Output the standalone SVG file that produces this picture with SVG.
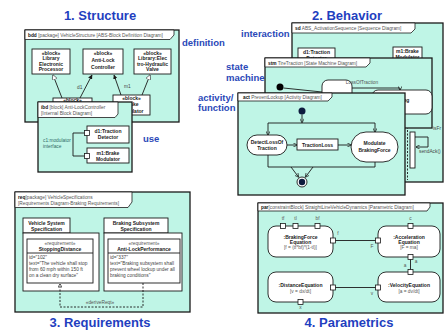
<svg xmlns="http://www.w3.org/2000/svg" width="444" height="330" viewBox="0 0 444 330">
<style>
text{font-family:"Liberation Sans",Arial,sans-serif}
.title{font-size:13px;font-weight:bold;fill:#1f3fbf;text-anchor:middle}
.lbl{font-size:9.5px;font-weight:bold;fill:#2a48b8}
.frame{fill:#bff5e6;stroke:#1a1a1a;stroke-width:1.3}
.tab{fill:#fff;stroke:#1a1a1a;stroke-width:0.8}
.hd{font-size:4.8px;fill:#555}
.k{font-weight:bold;fill:#111}
.box{fill:#fff;stroke:#1a1a1a;stroke-width:0.9}
.bt{font-size:5px;font-weight:bold;fill:#222;text-anchor:middle}
.nt{font-size:4.8px;fill:#555;text-anchor:middle}
.t{font-size:4.8px;fill:#444}
.ln{fill:none;stroke:#1a1a1a;stroke-width:0.9}
.port{fill:#fff;stroke:#1a1a1a;stroke-width:0.8}
.dot{fill:#0d1b3e}
</style>
<defs>
<marker id="arr" viewBox="0 0 10 10" refX="9" refY="5" markerWidth="5" markerHeight="5" orient="auto-start-reverse"><path d="M0,0 L10,5 L0,10" fill="none" stroke="#1a1a1a" stroke-width="1.5"/></marker>
<marker id="fill" viewBox="0 0 10 10" refX="9" refY="5" markerWidth="5" markerHeight="5" orient="auto-start-reverse"><path d="M0,0 L10,5 L0,10 Z" fill="#1a1a1a"/></marker>
<marker id="hollow" viewBox="0 0 10 10" refX="9" refY="5" markerWidth="6" markerHeight="6" orient="auto-start-reverse"><path d="M0,0 L10,5 L0,10 Z" fill="#fff" stroke="#1a1a1a" stroke-width="1"/></marker>
</defs>

<g id="titles">
<text class="title" x="100" y="20">1. Structure</text>
<text class="title" x="347" y="20">2. Behavior</text>
<text class="title" x="100" y="327">3. Requirements</text>
<text class="title" x="349" y="327">4. Parametrics</text>
<text class="lbl" x="182" y="45.5">definition</text>
<text class="lbl" x="143" y="142">use</text>
<text class="lbl" x="241" y="37">interaction</text>
<text class="lbl" x="226" y="70">state</text>
<text class="lbl" x="226" y="81">machine</text>
<text class="lbl" x="198" y="101">activity/</text>
<text class="lbl" x="198" y="111">function</text>
</g>

<!-- 1. Structure -->
<g id="bdd">
<rect class="frame" x="25" y="30" width="154" height="92"/>
<path class="tab" d="M25,30 H174 V35 L170,39.5 H25 Z"/>
<text class="hd" x="28" y="37"><tspan class="k">bdd</tspan> [package] VehicleStructure [ABS-Block Definition Diagram]</text>
<g id="blk-lep"><rect class="box" x="32" y="49" width="38" height="25"/>
<text class="bt" x="51" y="54.5">«block»</text><text class="bt" x="51" y="60">Library</text><text class="bt" x="51" y="65.5">Electronic</text><text class="bt" x="51" y="71">Processor</text></g>
<g id="blk-alc"><rect class="box" x="83" y="49" width="40" height="25"/>
<text class="bt" x="103" y="55">«block»</text><text class="bt" x="103" y="62">Anti-Lock</text><text class="bt" x="103" y="69">Controller</text></g>
<g id="blk-ehv"><rect class="box" x="134" y="49" width="37" height="25"/>
<text class="bt" x="152.5" y="54.5">«block»</text><text class="bt" x="152.5" y="60">Library:Elec</text><text class="bt" x="152.5" y="65.5">tro-Hydraulic</text><text class="bt" x="152.5" y="71">Valve</text></g>
<g id="blk-d1"><rect class="box" x="53" y="98" width="39" height="16"/>
<text class="bt" x="72.5" y="101.5">«block»</text></g>
<g id="blk-m1"><rect class="box" x="113" y="95" width="37" height="20"/>
<text class="bt" x="131.5" y="99.5">«block»</text><text class="bt" x="131.5" y="106">Brake</text><text class="bt" x="131.5" y="112.5">Modulator</text></g>
<g id="bdd-links">
<path class="ln" d="M62,98 L53,75" marker-end="url(#hollow)"/>
<path class="ln" d="M80,98 L92,75" marker-end="url(#fill)"/>
<path class="ln" d="M121,95 L114,75" marker-end="url(#fill)"/>
<path class="ln" d="M142,95 L150,75" marker-end="url(#hollow)"/>
<text class="t" x="77" y="89">d1</text>
<text class="t" x="124" y="88">m1</text>
</g>
</g>

<g id="ibd">
<rect class="frame" x="38" y="102" width="94" height="70"/>
<path class="tab" d="M38,102 H118 V114 L115,117.5 H38 Z"/>
<text class="hd" x="41" y="109"><tspan class="k">ibd</tspan> [block] Anti-LockController</text>
<text class="hd" x="41" y="115">[Internal Block Diagram]</text>
<g id="part-d1"><rect class="box" x="87" y="126" width="42" height="17"/>
<text class="bt" x="108" y="133">d1:Traction</text><text class="bt" x="108" y="139">Detector</text>
<rect class="port" x="84.5" y="130.5" width="5" height="5"/></g>
<g id="part-m1"><rect class="box" x="87" y="148" width="42" height="15"/>
<text class="bt" x="108" y="154.5">m1:Brake</text><text class="bt" x="108" y="160.5">Modulator</text>
<rect class="port" x="84.5" y="153.5" width="5" height="5"/></g>
<path class="ln" d="M84.5,133 H73 V156 H84.5"/>
<text class="t" x="43" y="141.5" style="fill:#2f6b66">c1:modulator</text>
<text class="t" x="43" y="147.5" style="fill:#2f6b66">interface</text>
</g>

<!-- 2. Behavior -->
<g id="sd">
<rect class="frame" x="292" y="23" width="151" height="159"/>
<path class="tab" d="M292,23 H415 V29 L411,33 H292 Z"/>
<text class="hd" x="295" y="30"><tspan class="k">sd</tspan> ABS_ActivationSequence [Sequence Diagram]</text>
<g id="ll-d1"><rect class="box" x="298" y="48" width="37" height="14"/>
<text class="bt" x="316.5" y="54">d1:Traction</text><text class="bt" x="316.5" y="60">Detector</text></g>
<g id="ll-m1"><rect class="box" x="393" y="47" width="29" height="13"/>
<text class="bt" x="407.5" y="53">m1:Brake</text><text class="bt" x="407.5" y="59">Modulator</text></g>
<path class="ln" d="M407.5,60 V180" stroke-dasharray="2,1.5"/>
<rect class="box" x="410" y="132" width="5" height="36"/>
<path class="ln" d="M415,137 H428 V147 H416" marker-end="url(#arr)"/>
<text class="t" x="419" y="153">sendAck()</text>
<text class="t" x="433" y="130">isFr</text>
</g>

<g id="stm">
<rect class="frame" x="265" y="58" width="167" height="70"/>
<path class="tab" d="M265,58 H370 V63 L366,67 H265 Z"/>
<text class="hd" x="268" y="65"><tspan class="k">stm</tspan> TireTraction [State Machine Diagram]</text>
<circle class="dot" cx="280" cy="87" r="3.5" style="fill:#000"/>
<path class="ln" d="M283.5,88 L322,92"/>
<rect class="box" x="322" y="80" width="30" height="24" rx="6"/>
<rect class="box" x="372" y="90" width="60" height="24" rx="6"/>
<text class="bt" x="400" y="102">Braking</text>
<path class="ln" d="M352,88 H400 V90" stroke-width="1.3" marker-end="url(#arr)"/>
<text class="nt" x="362" y="84">LossOfTraction</text>
</g>

<g id="act">
<rect class="frame" x="238" y="93" width="167" height="102"/>
<path class="tab" d="M238,93 H332 V97 L328,101 H238 Z"/>
<text class="hd" x="243" y="99"><tspan class="k">act</tspan> PreventLockup [Activity Diagram]</text>
<circle class="dot" cx="302" cy="111" r="3.5"/>
<path class="ln" d="M302,114.5 V122.5" marker-end="url(#arr)"/>
<path class="ln" d="M268,123 H375"/>
<path class="ln" d="M268,123 V135" marker-end="url(#arr)"/>
<path class="ln" d="M375,123 V132" marker-end="url(#arr)"/>
<g id="a-detect"><rect class="box" x="247" y="135" width="40" height="20" rx="10"/>
<text class="bt" x="267" y="143.5">DetectLossOf</text><text class="bt" x="267" y="150">Traction</text></g>
<path class="ln" d="M287,145 H297" marker-end="url(#arr)"/>
<g id="a-loss"><rect class="box" x="297" y="139" width="41" height="11"/>
<text class="bt" x="317.5" y="146.5">TractionLoss</text></g>
<path class="ln" d="M338,145 H351" marker-end="url(#arr)"/>
<g id="a-mod"><rect class="box" x="351" y="132" width="47" height="30" rx="15"/>
<text class="bt" x="374.5" y="145">Modulate</text><text class="bt" x="374.5" y="152">BrakingForce</text></g>
<path class="ln" d="M375,162 V167 H268 V155"/>
<path class="ln" d="M291,167 L298.5,177" marker-end="url(#arr)"/>
<path class="ln" d="M313,167 L305.5,177" marker-end="url(#arr)"/>
<circle cx="302" cy="182" r="5" fill="#fff" stroke="#1a1a1a" stroke-width="0.9"/>
<circle class="dot" cx="302" cy="182" r="3.2"/>
</g>

<!-- 3. Requirements -->
<g id="req">
<rect class="frame" x="15" y="192" width="175" height="120"/>
<path class="tab" d="M15,192 H132 V202 L128,207.5 H15 Z"/>
<text class="hd" x="18" y="198.5"><tspan class="k">req</tspan>[package] VehicleSpecifications</text>
<text class="hd" x="18" y="205">[Requirements Diagram-Braking Requirements]</text>
<g id="pkg-vss"><rect class="box" x="23" y="218" width="47" height="15"/><rect class="box" x="23" y="233" width="76" height="58"/>
<text class="bt" x="46.5" y="224.5">Vehicle System</text><text class="bt" x="46.5" y="230.5">Specification</text></g>
<g id="pkg-bss"><rect class="box" x="104" y="218" width="64" height="15"/><rect class="box" x="104" y="233" width="78" height="58"/>
<text class="bt" x="136" y="224.5">Braking Subsystem</text><text class="bt" x="136" y="230.5">Specification</text></g>
<g id="req-sd"><rect class="box" x="27" y="239" width="66" height="44"/><path class="ln" d="M27,253 H93"/>
<text class="nt" x="60" y="245">«requirement»</text><text class="bt" x="60" y="251">StoppingDistance</text>
<text class="t" x="29" y="259">id="102"</text><text class="t" x="29" y="265">text="The vehicle shall stop</text><text class="t" x="29" y="271">from 60 mph within 150 ft</text><text class="t" x="29" y="277">on a clean dry surface"</text></g>
<g id="req-alp"><rect class="box" x="108" y="239" width="72" height="44"/><path class="ln" d="M108,253 H180"/>
<text class="nt" x="144" y="245">«requirement»</text><text class="bt" x="144" y="251">Anti-LockPerformance</text>
<text class="t" x="110" y="259">id="337"</text><text class="t" x="110" y="265">text="Braking subsystem shall</text><text class="t" x="110" y="271">prevent wheel lockup under all</text><text class="t" x="110" y="277">braking conditions"</text></g>
<path class="ln" d="M143,283 V307 H60 V284" stroke-dasharray="2,1.5" marker-end="url(#arr)"/>
<text class="nt" x="100" y="303.5">«deriveReqt»</text>
</g>

<!-- 4. Parametrics -->
<g id="par">
<rect class="frame" x="258" y="203" width="185" height="110"/>
<path class="tab" d="M258,203 H430 V207 L427,211 H258 Z"/>
<text class="hd" x="261" y="209"><tspan class="k">par</tspan>[constraintBlock] StraightLineVehicleDynamics [Parametric Diagram]</text>
<g id="c-bf"><rect class="box" x="268" y="226" width="65" height="31" rx="8"/>
<text class="bt" x="300.5" y="239">:BrakingForce</text><text class="bt" x="300.5" y="244">Equation</text><text class="nt" x="300.5" y="249">[f = (tf*bf)*(1-tl)]</text>
<rect class="port" x="280.5" y="223.5" width="5" height="5"/><rect class="port" x="293" y="223.5" width="5" height="5"/><rect class="port" x="315" y="223.5" width="5" height="5"/>
<rect class="port" x="330.5" y="238" width="5" height="5"/>
<text class="nt" x="283" y="220">tf</text><text class="nt" x="295.5" y="220">tl</text><text class="nt" x="317.5" y="220">bf</text></g>
<g id="c-acc"><rect class="box" x="378" y="226" width="62" height="31" rx="8"/>
<text class="bt" x="409" y="239">:Acceleration</text><text class="bt" x="409" y="244">Equation</text><text class="nt" x="409" y="249">[F = ma]</text>
<rect class="port" x="408" y="223.5" width="5" height="5"/><rect class="port" x="375.5" y="238" width="5" height="5"/><rect class="port" x="408" y="254.5" width="5" height="5"/>
<text class="nt" x="410.5" y="220">c</text></g>
<g id="c-dist"><rect class="box" x="268" y="272" width="65" height="30" rx="8"/>
<text class="bt" x="300.5" y="287">:DistanceEquation</text><text class="nt" x="300.5" y="293">[v = dx/dt]</text>
<rect class="port" x="330.5" y="285" width="5" height="5"/><rect class="port" x="298" y="299.5" width="5" height="5"/>
<text class="nt" x="300.5" y="309">x</text></g>
<g id="c-vel"><rect class="box" x="378" y="272" width="62" height="30" rx="8"/>
<text class="bt" x="409" y="287">:VelocityEquation</text><text class="nt" x="409" y="293">[a = dv/dt]</text>
<rect class="port" x="375.5" y="285" width="5" height="5"/><rect class="port" x="408" y="269.5" width="5" height="5"/></g>
<g id="par-links">
<path class="ln" d="M335.5,240.5 H375.5"/>
<path class="ln" d="M410.5,259.5 V269.5"/>
<path class="ln" d="M335.5,287.5 H375.5"/>
<text class="nt" x="338" y="235">f</text><text class="nt" x="372" y="248">F</text>
<text class="nt" x="405" y="267">a</text><text class="nt" x="416" y="263">a</text>
<text class="nt" x="372" y="295">v</text>
</g>
</g>
</svg>
